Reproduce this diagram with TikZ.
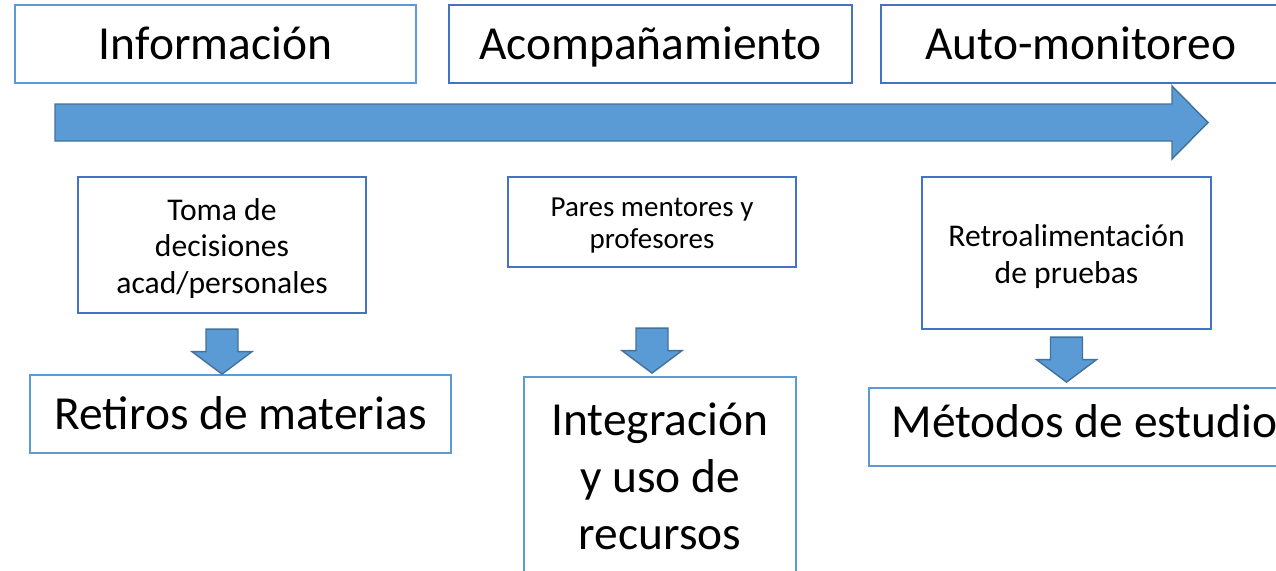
\documentclass[tikz,border=0pt]{standalone}
\usepackage{fontspec}
\setmainfont{Carlito}
\usepackage{tikz}
\usetikzlibrary{calc}
\definecolor{azulclaro}{HTML}{5B9BD5}
\definecolor{azuloscuro}{HTML}{4472C4}
\definecolor{bordeazul}{HTML}{41719C}
% texto de varias lineas, un poco mas abajo
\newcommand{\lineas}[1]{\raisebox{-2.6pt}[\height][\depth]{\begin{tabular}{@{}c@{}}#1\end{tabular}}}
\tikzset{
	titulo/.style={
		rectangle,
		draw=azuloscuro, line width=1pt,
		minimum height=1.56cm,
		inner sep=0pt,
		text height=17.4pt, text depth=0pt,
		text centered,
		font=\fontsize{27}{32}\selectfont},
	caja/.style={
		rectangle,
		draw=azuloscuro, line width=1pt,
		minimum width=5.76cm,
		inner sep=0pt,
		align=center,
		font=\fontsize{18}{21}\selectfont},
	resultado/.style={
		rectangle,
		draw=azulclaro, line width=1pt,
		minimum width=8.42cm,
		minimum height=1.56cm,
		inner sep=0pt,
		align=center,
		font=\fontsize{27}{32.5}\selectfont},
	unalinea/.style={text height=17.4pt, text depth=0pt},
	flechabloque/.style={
		fill=azulclaro,
		draw=bordeazul, line width=0.8pt,
		line join=miter},
	bajada/.pic={
		\path[flechabloque] (-0.32,0.9) -- (0.32,0.9) -- (0.32,0.45) -- (0.6,0.45)
			-- (0,0) -- (-0.6,0.45) -- (-0.32,0.45) -- cycle;},
}

\begin{document}
\begin{tikzpicture}
	\useasboundingbox (0,0) rectangle (25.52,-11.4);
	% etapas
	\node[titulo, draw=azulclaro, minimum width=8.02cm] (info) at (4.31,-0.88) {Información};
	\node[titulo, minimum width=8.06cm] (acomp) at (13.01,-0.88) {Acompañamiento};
	\node[titulo, minimum width=8.00cm] (auto) at (21.62,-0.88) {Auto-monitoreo};
	% flecha grande
	\path[flechabloque] (1.10,-2.08) -- (23.44,-2.08) -- (23.44,-1.72) -- (24.16,-2.45)
		-- (23.44,-3.18) -- (23.44,-2.82) -- (1.10,-2.82) -- cycle;
	% cajas
	\node[caja, minimum height=2.72cm] (toma) at (4.44,-4.90) {\lineas{Toma de\\decisiones\\acad/personales}};
	\node[caja, minimum height=1.80cm, font=\fontsize{16.5}{18.2}\selectfont] (pares) at (13.04,-4.44) {\lineas{Pares mentores y\\profesores}};
	\node[caja, minimum width=5.78cm, minimum height=3.04cm] (retro) at (21.33,-5.06) {\lineas{Retroalimentación\\de pruebas}};
	% resultados
	\node[resultado, unalinea] (retiros) at (4.81,-8.28) {Retiros de materias};
	\node[resultado, minimum width=5.44cm, minimum height=3.96cm] (integ) at (13.20,-9.52) {Integración\\y uso de\\recursos};
	\node[resultado, unalinea, text depth=5.6pt, minimum width=8.62cm] (metodos) at (21.69,-8.54) {Métodos de estudio};
	% flechas
	\pic at (toma.south |- retiros.north) {bajada};
	\pic at ($(pares.south |- integ.north)+(0,0.06)$) {bajada};
	\pic at ($(retro.south |- metodos.north)+(0,0.10)$) {bajada};
\end{tikzpicture}
\end{document}
